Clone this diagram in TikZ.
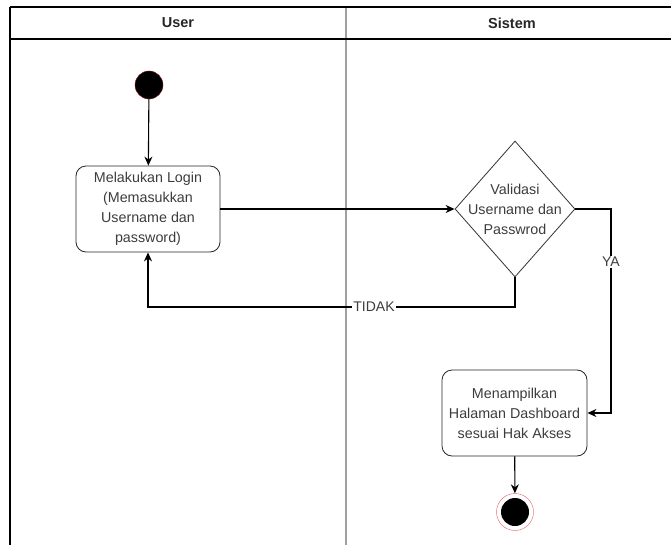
\documentclass[tikz,border=0pt]{standalone}
\usepackage{fontspec}
\setmainfont{Liberation Sans}
\usetikzlibrary{shapes.geometric, arrows.meta, positioning}
\definecolor{lanegray}{RGB}{160,160,160}
\definecolor{textgray}{RGB}{60,60,60}
\definecolor{startred}{RGB}{140,20,20}
\definecolor{endred}{RGB}{225,95,95}

\begin{document}
\begin{tikzpicture}[
    x=1pt, y=-1pt,
    lanehead/.style={font=\fontsize{14.5}{17}\selectfont\bfseries, text=black!85},
    action/.style={draw=black!85, thick, rounded corners=10pt, minimum width=144pt, minimum height=86pt, align=center, text=textgray, font=\fontsize{14.3}{20}\selectfont, inner sep=2pt},
    decision/.style={diamond, draw=black!80, thick, minimum width=120pt, minimum height=136pt, inner sep=0pt},
    initial/.style={circle, fill=black, draw=startred, minimum size=28pt, inner sep=0pt},
    final/.style={circle, draw=endred, fill=white, minimum size=37pt, inner sep=0pt, path picture={\fill[black] (path picture bounding box.center) circle (14pt);}},
    flow/.style={-{Stealth[length=9pt, width=8pt]}, line width=1.1pt},
    guard/.style={fill=white, inner sep=1pt, text=textgray, font=\fontsize{14}{16}\selectfont}
]
    \useasboundingbox (0,0) rectangle (671,545);

    % Swimlanes
    \draw[lanegray, line width=1.3pt] (346,7) -- (346,545);
    \draw[line width=1.5pt] (10,7) -- (671,7);
    \draw[line width=1.5pt] (10,39) -- (671,39);
    \draw[line width=1.5pt] (10,7) -- (10,545);
    \node[lanehead] (userhead) at (178,23) {User};
    \node[lanehead] (sistemhead) at (512,23) {Sistem};

    % User lane
    \node[initial] (start) at (149,85) {};
    \node[action] (login) at (148,209) {Melakukan Login\\(Memasukkan\\Username dan\\password)};

    % Sistem lane
    \node[decision, label={[align=center, text=textgray, font=\fontsize{14.3}{20}\selectfont]center:Validasi\\Username dan\\Passwrod}] (valid) at (515,209) {};
    \node[action, minimum width=145pt] (dash) at (514.5,413) {Menampilkan\\Halaman Dashboard\\sesuai Hak Akses};
    \node[final] (stop) at (515,512) {};

    % Turning points
    \coordinate (yaturn) at (611,262);
    \coordinate (tidakturn) at (374,307);

    % Flows
    \draw[flow] (start) -- (login);
    \draw[flow] (login) -- (valid);
    \draw[flow] (valid.east) -| (yaturn) node[guard] (ya) {YA} |- (dash.east);
    \draw[flow] (valid.south) |- (tidakturn) node[guard] (tidak) {TIDAK} -| (login.south);
    \draw[flow] (dash) -- (stop);
\end{tikzpicture}
\end{document}
